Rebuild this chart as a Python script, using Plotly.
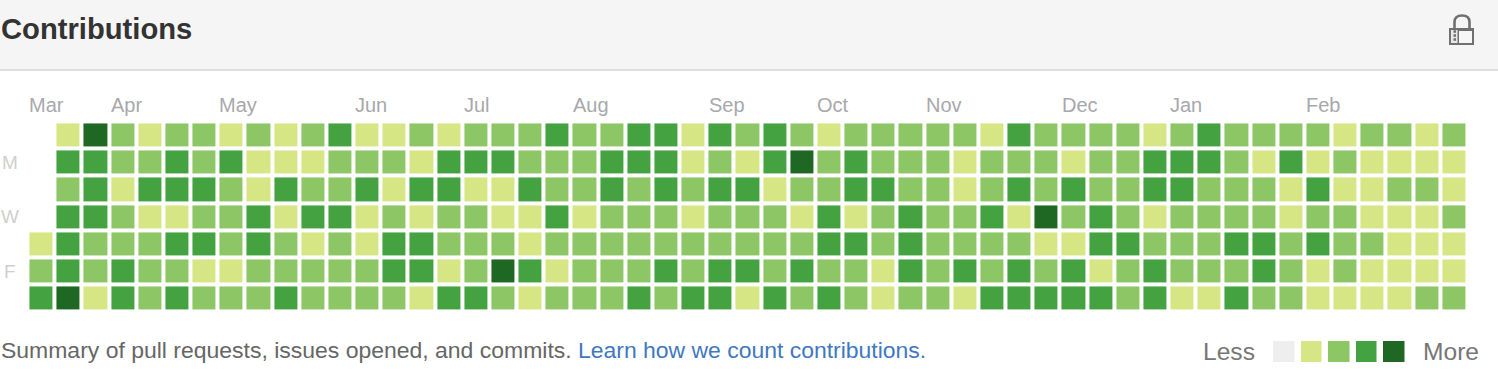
import plotly.graph_objects as go

W, H = 1498, 388
N = None
sun = [N,1,4,2,1,2,2,1,2,1,2,3,1,1,2,1,2,2,2,3,2,2,3,3,1,3,2,3,2,1,2,2,2,2,2,1,3,2,2,2,2,1,2,3,2,2,2,2,1,2,2,1,2]
mon = [N,3,3,2,2,3,2,3,1,1,1,2,2,2,1,3,3,3,2,2,2,3,3,3,1,2,1,3,4,2,3,2,2,2,1,2,2,2,1,2,2,3,3,3,2,1,3,1,2,1,1,1,1]
tue = [N,2,3,1,3,3,3,2,1,3,2,2,3,1,3,3,1,1,3,2,2,3,2,3,2,3,3,1,2,2,3,3,2,2,1,2,3,2,3,2,2,3,3,2,2,2,1,3,1,1,2,2,1]
wed = [N,3,3,2,1,1,2,2,3,1,3,3,1,2,1,2,2,1,1,3,1,2,2,2,1,2,2,2,1,3,1,2,3,2,2,3,1,4,2,3,2,1,2,2,2,2,1,2,2,1,1,1,2]
thu = [1,3,2,2,2,3,3,2,3,2,1,2,1,3,3,2,2,2,1,2,2,2,2,2,2,2,2,2,2,3,3,2,3,2,2,2,2,1,1,3,3,2,2,2,3,3,2,3,2,2,1,1,1]
fri = [2,3,2,3,2,2,1,1,2,2,2,2,2,3,3,1,2,4,3,1,2,2,2,3,2,3,3,2,3,2,2,1,3,2,3,2,3,2,3,1,2,3,2,2,2,3,2,1,2,1,1,1,1]
sat = [3,4,1,3,2,3,2,2,2,3,2,2,2,2,1,3,3,2,1,2,2,2,3,2,3,3,1,3,2,3,2,1,2,2,1,3,3,3,3,3,2,3,1,1,3,2,2,1,1,1,1,2,2]
weeks = [sun, mon, tue, wed, thu, fri, sat]

months = ["Mar","Apr","May","Jun","Jul","Aug","Sep","Oct","Nov","Dec","Jan","Feb"]
month_cols = [0,3,7,12,16,20,25,29,33,38,42,47]
day_labels = ["M","W","F"]
day_rows = [1,3,5]
legend_levels = [0,1,2,3,4]
COLORS = ["#eeeeee","#d6e685","#8cc665","#44a340","#1e6823"]

scale = []
for i, c in enumerate(COLORS):
    scale += [[i/5, c], [(i+1)/5, c]]

def px(x): return x / W
def py(y): return 1 - y / H

fig = go.Figure()
fig.add_trace(go.Heatmap(z=weeks, zmin=-0.5, zmax=4.5, colorscale=scale, showscale=False,
                         xgap=4, ygap=4, hoverinfo="skip", xaxis="x", yaxis="y"))
fig.add_trace(go.Heatmap(z=[legend_levels], zmin=-0.5, zmax=4.5, colorscale=scale, showscale=False,
                         xgap=6.5, ygap=0, hoverinfo="skip", xaxis="x2", yaxis="y2"))

ann = []
def text(x, y, s, size, color, anchor="left", bold=False, xref="paper"):
    ann.append(dict(x=x, y=y, xref=xref, yref="paper", text=f"<b>{s}</b>" if bold else s,
                    showarrow=False, xanchor=anchor, yanchor="middle", borderpad=0, borderwidth=0,
                    font=dict(family="Liberation Sans", size=size, color=color)))

text(px(1), py(29), "Contributions", 29.2, "#333333", bold=True)
for m, c in zip(months, month_cols):
    text(c - 0.43, py(105.5), m, 20, "#a8a8ac", xref="x")
for d, r in zip(day_labels, day_rows):
    ann.append(dict(x=px(9.5), y=r, xref="paper", yref="y", text=d, showarrow=False, xanchor="center",
                    yanchor="middle", borderpad=0, font=dict(family="Liberation Sans", size=19, color="#cfcfcf")))
text(px(1), py(350), "Summary of pull requests, issues opened, and commits.", 22.98, "#666666")
text(px(578), py(350), "Learn how we count contributions.", 22.95, "#4078c0")
text(px(1203), py(351), "Less", 24.6, "#767676")
text(px(1423), py(351), "More", 24.6, "#767676")

shapes = [
    dict(type="rect", xref="paper", yref="paper", x0=0, x1=1, y0=py(69), y1=1, fillcolor="#f5f5f5",
         line_width=0, layer="below"),
    dict(type="line", xref="paper", yref="paper", x0=0, x1=1, y0=py(70), y1=py(70),
         line=dict(color="#dedede", width=2), layer="below"),
]
LOCK = "#707070"
# shackle
shapes.append(dict(type="path", xref="paper", yref="paper",
    path=f"M {px(1454.5)} {py(28)} L {px(1454.5)} {py(22)} Q {px(1454.5)} {py(15.5)} {px(1462)} {py(15.5)} "
         f"Q {px(1469.5)} {py(15.5)} {px(1469.5)} {py(22)} L {px(1469.5)} {py(28)}",
    line=dict(color=LOCK, width=2.6)))
# body
shapes.append(dict(type="rect", xref="paper", yref="paper", x0=px(1449), x1=px(1474), y0=py(45), y1=py(28),
                   fillcolor=LOCK, line_width=0))
shapes.append(dict(type="rect", xref="paper", yref="paper", x0=px(1459), x1=px(1472), y0=py(43), y1=py(31),
                   fillcolor="#f7f7f7", line_width=0))
shapes.append(dict(type="rect", xref="paper", yref="paper", x0=px(1451), x1=px(1457.5), y0=py(43), y1=py(30),
                   fillcolor="#e8e8e8", line_width=0))
for dy in (31.5, 35.5, 39.5):
    shapes.append(dict(type="rect", xref="paper", yref="paper", x0=px(1453.5), x1=px(1456), y0=py(dy+1.3), y1=py(dy-1.3),
                       fillcolor=LOCK, line_width=0))

axis_off = dict(showgrid=False, zeroline=False, showticklabels=False, ticks="", showline=False, fixedrange=True)
fig.update_layout(
    width=W, height=H, margin=dict(l=0, r=0, t=0, b=0),
    paper_bgcolor="#ffffff", plot_bgcolor="rgba(0,0,0,0)", showlegend=False,
    xaxis=dict(axis_off, domain=[px(27.4), px(1467.4)], range=[-0.5, 52.5]),
    yaxis=dict(axis_off, domain=[py(311.8), py(121.4)], range=[6.5, -0.5]),
    xaxis2=dict(axis_off, domain=[px(1270), px(1408)], range=[-0.5, 4.5], anchor="y2"),
    yaxis2=dict(axis_off, domain=[py(362), py(341)], range=[-0.5, 0.5], anchor="x2"),
    annotations=ann, shapes=shapes,
)
fig.write_html("out.html", config=dict(displayModeBar=False),
               post_script="document.body.style.margin='0';")
